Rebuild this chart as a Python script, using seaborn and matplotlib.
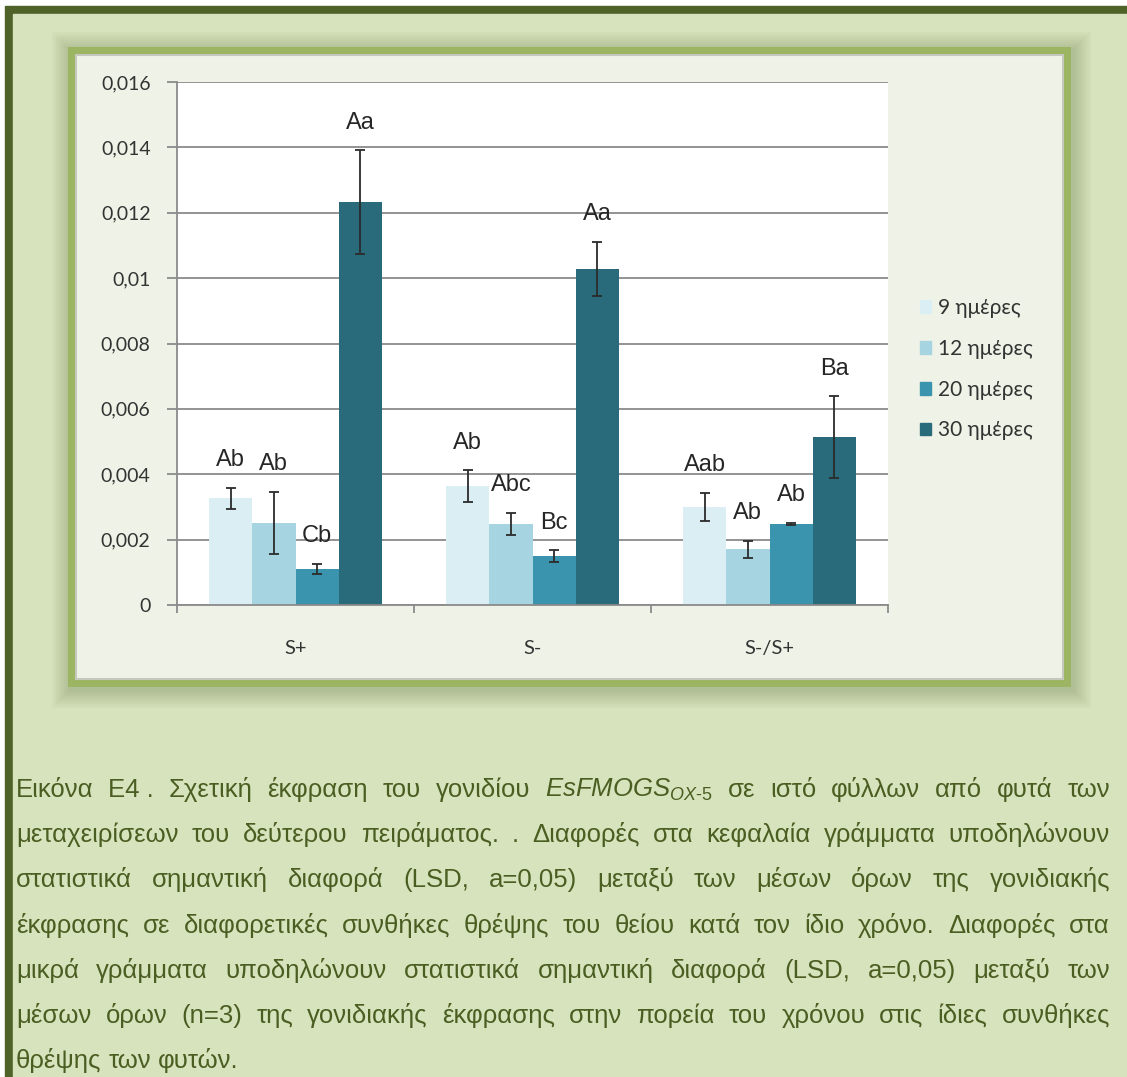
import matplotlib
matplotlib.use("Agg")
import matplotlib.pyplot as plt
from matplotlib.patches import Rectangle
from matplotlib.ticker import FuncFormatter
import seaborn as sns
import pandas as pd

W, H = 1127, 1077

# Δεδομένα (τιμές διαβασμένες από το γράφημα)
conditions = ['S+', 'S-', 'S-/S+']
days = ['9 ημέρες', '12 ημέρες', '20 ημέρες', '30 ημέρες']

mean_9 = [0.00327, 0.00364, 0.00300]
mean_12 = [0.00251, 0.00248, 0.00171]
mean_20 = [0.00110, 0.00150, 0.00248]
mean_30 = [0.01233, 0.01028, 0.00514]

err_9 = [0.00032, 0.00048, 0.00044]
err_12 = [0.00095, 0.00034, 0.00026]
err_20 = [0.00015, 0.00017, 0.00003]
err_30 = [0.00158, 0.00083, 0.00124]

letters_9 = ['Ab', 'Ab', 'Aab']
letters_12 = ['Ab', 'Abc', 'Ab']
letters_20 = ['Cb', 'Bc', 'Ab']
letters_30 = ['Aa', 'Aa', 'Ba']

# Η λεζάντα, μία γραμμή ανά στοιχείο (\u00a0 = κενό που δεν τεντώνεται)
caption_lines = [
    'Εικόνα Ε4\u00a0. Σχετική έκφραση του γονιδίου '
    '$\\mathit{EsFMOGS}_{\\mathit{OX}\\text{-}\\mathit{5}}$ σε ιστό φύλλων από φυτά των',
    'μεταχειρίσεων του δεύτερου πειράματος. . Διαφορές στα κεφαλαία γράμματα υποδηλώνουν',
    'στατιστικά σημαντική διαφορά (LSD, a=0,05) μεταξύ των μέσων όρων της γονιδιακής',
    'έκφρασης σε διαφορετικές συνθήκες θρέψης του θείου κατά τον ίδιο χρόνο. Διαφορές στα',
    'μικρά γράμματα υποδηλώνουν στατιστικά σημαντική διαφορά (LSD, a=0,05) μεταξύ των',
    'μέσων όρων (n=3) της γονιδιακής έκφρασης στην πορεία του χρόνου στις ίδιες συνθήκες',
    'θρέψης των φυτών.',
]

colors = ['#dbeef4', '#a6d4e1', '#3a94ad', '#2a6b7b']

means = [mean_9, mean_12, mean_20, mean_30]
errs = [err_9, err_12, err_20, err_30]
letters = [letters_9, letters_12, letters_20, letters_30]

df = pd.DataFrame({
    'condition': conditions * len(days),
    'day': [d for d in days for _ in conditions],
    'value': mean_9 + mean_12 + mean_20 + mean_30,
})

sns.set_style('white')
plt.rcParams['mathtext.fontset'] = 'custom'
plt.rcParams['mathtext.it'] = 'Liberation Sans:italic'
plt.rcParams['mathtext.rm'] = 'Liberation Sans'
calibri_like = ['Lato', 'Open Sans', 'DejaVu Sans']

fig = plt.figure(figsize=(W / 100, H / 100), dpi=100)
fig.patch.set_facecolor('white')


def box(x0, y0, x1, y1, **kw):
    '''Ορθογώνιο σε pixel (αρχή πάνω αριστερά)'''
    r = Rectangle((x0 / W, 1 - y1 / H), (x1 - x0) / W, (y1 - y0) / H,
                  transform=fig.transFigure, **kw)
    fig.add_artist(r)
    return r


# Πλαίσιο σελίδας
box(5, 6, W, H, color='#4f6228', zorder=-20)
box(13, 14, W, H, color='#d7e3bc', zorder=-19)

# Σκιά και πράσινο περίγραμμα γύρω από το γράφημα
px0, py0, px1, py1 = 76, 55, 1063, 679
for pad in range(26, 8, -2):
    box(px0 - pad + 2, py0 - pad + 3, px1 + pad + 2, py1 + pad + 3,
        color='#5f6e42', alpha=0.035, lw=0, zorder=-18)
box(px0 - 8, py0 - 8, px1 + 8, py1 + 8, color='#9bb562', lw=0, zorder=-17)
box(px0, py0, px1, py1, facecolor='#eff3e7', edgecolor='#c4c8bd', lw=1.5, zorder=-16)

# Άξονες
ax = fig.add_axes([177 / W, 1 - 605 / H, (888 - 177) / W, (605 - 82) / H])
ax.set_facecolor('white')

sns.barplot(data=df, x='condition', y='value', hue='day', palette=colors,
            saturation=1, width=0.73, gap=0, errorbar=None, legend=False,
            linewidth=0, ax=ax)

for cont, m, e, lab in zip(ax.containers, means, errs, letters):
    xs = [b.get_x() + b.get_width() / 2 for b in cont]
    ax.errorbar(xs, m, yerr=e, fmt='none', ecolor='#2b2b2b', elinewidth=1.3,
                capsize=3.3, capthick=1.3, zorder=5)
    for x, v, ev, t in zip(xs, m, e, lab):
        ax.annotate(t, (x, v + ev), xytext=(0, 20), textcoords='offset points',
                    ha='center', va='center', fontsize=17,
                    family='Liberation Sans', color='#262626')

ax.set_ylim(0, 0.016)
ax.set_yticks([0, 0.002, 0.004, 0.006, 0.008, 0.01, 0.012, 0.014, 0.016])
ax.yaxis.set_major_formatter(FuncFormatter(lambda v, p: f'{v:g}'.replace('.', ',')))
ax.set_xlim(-0.5, 2.5)
ax.set_xticks([-0.5, 0.5, 1.5, 2.5], minor=True)
ax.set_xlabel('')
ax.set_ylabel('')

ax.grid(axis='y', color='#8a8a8a', lw=1.3)
ax.set_axisbelow(True)
for s in ['top', 'right']:
    ax.spines[s].set_visible(False)
for s in ['left', 'bottom']:
    ax.spines[s].set_color('#8a8a8a')
    ax.spines[s].set_linewidth(1.3)

ax.tick_params(axis='y', length=7, width=1.3, color='#8a8a8a', pad=12,
               labelsize=14, labelcolor='#333333', left=True)
ax.tick_params(axis='x', which='major', length=0, pad=25, labelsize=14.5,
               labelcolor='#333333')
ax.tick_params(axis='x', which='minor', length=6, width=1.3, color='#8a8a8a',
               bottom=True)
for t in ax.get_xticklabels() + ax.get_yticklabels():
    t.set_family(calibri_like)

handles = [Rectangle((0, 0), 1, 1, color=c) for c in colors]
fig.legend(handles, days, loc='upper left', bbox_to_anchor=(920 / W, 1 - 298 / H),
           frameon=False, prop={'family': calibri_like, 'size': 15},
           handlelength=0.55, handleheight=0.55, handletextpad=0.3,
           labelspacing=1.0, borderpad=0, borderaxespad=0, labelcolor='#333333')

# Λεζάντα με πλήρη στοίχιση
renderer = fig.canvas.get_renderer()
left, right = 16, 1110
for i, line in enumerate(caption_lines):
    yb = 1 - (797 + i * 45.2) / H
    words = line.split(' ')
    texts = [fig.text(0, yb, w, fontsize=18.5, family='Liberation Sans',
                      color='#4b5e22', ha='left', va='baseline') for w in words]
    widths = [t.get_window_extent(renderer).width for t in texts]
    if i < len(caption_lines) - 1 and len(words) > 1:
        gap = (right - left - sum(widths)) / (len(words) - 1)
    else:
        gap = 7
    x = left
    for t, w in zip(texts, widths):
        t.set_x(x / W)
        x += w + gap

fig.savefig('out.png', dpi=100)
